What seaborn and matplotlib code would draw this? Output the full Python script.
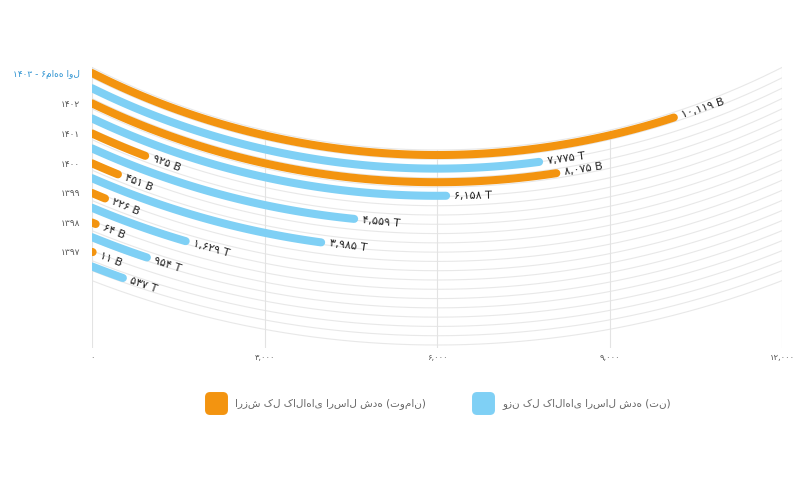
import numpy as np
import pandas as pd
import matplotlib.pyplot as plt
import matplotlib.patches as mpatches
from matplotlib.lines import Line2D
import seaborn as sns

# داده ها (از بالا به پایین)
years = ["۱۴۰۳ - ۶ماهه اول", "۱۴۰۲", "۱۴۰۱", "۱۴۰۰", "۱۳۹۹", "۱۳۹۸", "۱۳۹۷"]
value_b = [10119, 8075, 925, 451, 226, 64, 11]        # ارزش - میلیارد تومان
weight_t = [7775, 6158, 4559, 3985, 1629, 954, 537]   # وزن - تن
x_ticks = [0, 3000, 6000, 9000, 12000]
series_value = "ارزش کل کالاهای ارسال شده (تومان)"
series_weight = "وزن کل کالاهای ارسال شده (تن)"

orange = "#F39410"
blue = "#7FD0F5"

sns.set_theme(style="white")
plt.rcParams['font.family'] = ['DejaVu Sans']

FA = str.maketrans("0123456789", "۰۱۲۳۴۵۶۷۸۹")
def fa(n):
    return f"{n:,}".translate(FA)

# geometry in pixels: concentric circles, x linear in value
X0, X1 = 92, 782
CX, CY = 437, -612
R0, DR = 767, 13.6
VMAX = 12000
BOTTOM, TOP = 348, 40

def px(v):
    return X0 + np.asarray(v, dtype=float) * (X1 - X0) / VMAX

def arc_y(v, r):
    return CY + np.sqrt(r ** 2 - (px(v) - CX) ** 2)

# build the curve points for each bar
pieces = []
for i, yr in enumerate(years):
    for j, (name, vals) in enumerate([("value", value_b), ("weight", weight_t)]):
        r = R0 + DR * (2 * i + j)
        xs = np.linspace(0, vals[i], 120)
        pieces.append(pd.DataFrame({"x": xs, "y": arc_y(xs, r),
                                    "series": name, "bar": f"{i}-{j}"}))
df = pd.concat(pieces, ignore_index=True)

fig = plt.figure(figsize=(8, 5), dpi=100)
ax = fig.add_axes([X0 / 800, (500 - BOTTOM) / 500, (X1 - X0) / 800, (BOTTOM - TOP) / 500])

# grid circles + vertical lines
for r in np.linspace(762, 957, 22):
    xs = np.linspace(0, VMAX, 300)
    ax.plot(xs, arc_y(xs, r), color="#E8E8E8", lw=0.8, zorder=1)
for t in x_ticks:
    ax.plot([t, t], [arc_y(t, 762), BOTTOM], color="#E3E3E3", lw=0.8, zorder=1)

sns.lineplot(data=df, x="x", y="y", hue="series", units="bar", estimator=None,
             sort=False, palette={"value": orange, "weight": blue},
             linewidth=5.8, legend=False, ax=ax, zorder=3)
for ln in ax.lines:
    ln.set_solid_capstyle("round")

# value labels along the tangent
for i in range(len(years)):
    for j, (vals, unit) in enumerate([(value_b, "B"), (weight_t, "T")]):
        r = R0 + DR * (2 * i + j)
        v = vals[i]
        xp = float(px(v))
        dx = xp - CX
        s = np.sqrt(r ** 2 - dx ** 2)
        ang = np.arctan(dx / s)
        off = 8
        lx = xp + off * np.cos(ang)
        ly = float(arc_y(v, r)) - off * np.sin(ang)
        ax.text((lx - X0) * VMAX / (X1 - X0), ly, f"{fa(v)} {unit}",
                rotation=np.degrees(ang), rotation_mode="anchor",
                ha="left", va="center", fontsize=8, color="#222222", zorder=4)

ax.set_xlim(0, VMAX)
ax.set_ylim(BOTTOM, TOP)
for sp in ax.spines.values():
    sp.set_visible(False)
ax.set_xlabel("")
ax.set_ylabel("")
ax.set_xticks(x_ticks)
ax.set_xticklabels([fa(t) for t in x_ticks], fontsize=6, color="#555555")
ax.set_yticks([float(arc_y(0, R0 + DR * 2 * i)) for i in range(len(years))])
ax.set_yticklabels(years, fontsize=6.5, color="#555555")
ax.get_yticklabels()[0].set_color("#2E93D1")
ax.tick_params(axis="x", length=0, pad=3.5)
ax.tick_params(axis="y", length=0, pad=8.5)

# legend with rounded squares
box = mpatches.FancyBboxPatch((-0.5, -0.5), 1, 1,
                              boxstyle="round,pad=0,rounding_size=0.2").get_path()
handles = [Line2D([], [], marker=box, linestyle="", markersize=15.5, color=orange),
           Line2D([], [], marker=box, linestyle="", markersize=15.5, color=blue)]
fig.legend(handles, [series_value, series_weight], loc="center",
           bbox_to_anchor=(438 / 800, 1 - 404 / 500), ncol=2, frameon=False,
           fontsize=7.5, labelcolor="#666666", handletextpad=0.85,
           columnspacing=4.4, handlelength=2.1)

fig.savefig("out.png", dpi=100)
